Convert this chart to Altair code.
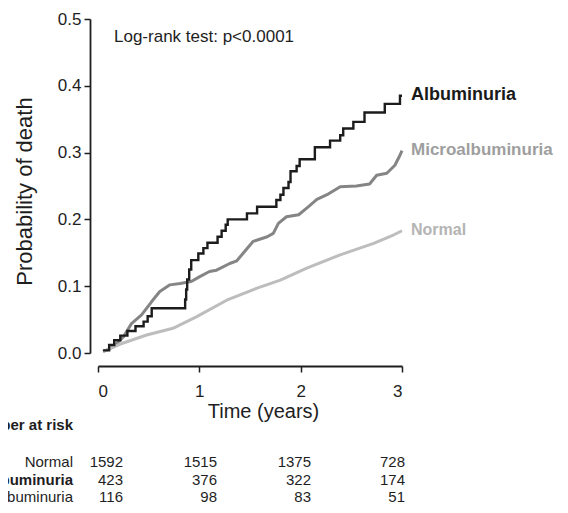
import altair as alt
import pandas as pd

# ---- data ----
alb_t = [0.05, 0.11, 0.16, 0.22, 0.29, 0.37, 0.45, 0.49, 0.53, 0.86, 0.87, 0.88, 0.90, 0.92,
         0.99, 1.04, 1.08, 1.18, 1.22, 1.26, 1.28, 1.47, 1.57, 1.76, 1.80, 1.83, 1.88, 1.90,
         1.96, 1.99, 2.14, 2.29, 2.39, 2.42, 2.52, 2.63, 2.83, 2.98, 3.00]
alb_p = [0.004, 0.012, 0.019, 0.026, 0.033, 0.040, 0.047, 0.055, 0.067, 0.080, 0.095, 0.110, 0.125, 0.139,
         0.149, 0.157, 0.165, 0.174, 0.183, 0.192, 0.200, 0.209, 0.219, 0.229, 0.237, 0.247, 0.256, 0.272,
         0.280, 0.290, 0.308, 0.318, 0.326, 0.336, 0.346, 0.360, 0.373, 0.385, 0.385]

mic_t = [0.05, 0.15, 0.25, 0.33, 0.43, 0.53, 0.61, 0.71, 0.81, 0.92, 1.00, 1.10, 1.17, 1.30, 1.37,
         1.43, 1.53, 1.67, 1.73, 1.78, 1.86, 1.98, 2.06, 2.16, 2.26, 2.39, 2.55, 2.68, 2.75, 2.85,
         2.93, 2.98, 3.00]
mic_p = [0.002, 0.009, 0.024, 0.044, 0.057, 0.077, 0.092, 0.102, 0.104, 0.107, 0.114, 0.122, 0.124, 0.134, 0.138,
         0.149, 0.167, 0.174, 0.179, 0.194, 0.204, 0.207, 0.217, 0.230, 0.237, 0.249, 0.250, 0.253, 0.266, 0.269,
         0.281, 0.296, 0.303]

nor_t = [0.05, 0.25, 0.48, 0.74, 0.97, 1.27, 1.57, 1.80, 2.06, 2.39, 2.72, 2.92, 3.00]
nor_p = [0.002, 0.015, 0.027, 0.037, 0.054, 0.079, 0.097, 0.109, 0.127, 0.147, 0.164, 0.177, 0.183]

groups = ["Albuminuria", "Microalbuminuria", "Normal"]
line_colors = ["#1c1c1c", "#858585", "#bdbdbd"]
label_colors = ["#1a1a1a", "#9e9e9e", "#b4b4b4"]
label_sizes = [18, 16, 18]

risk_times = [0, 1, 2, 3]
risk_rows = ["Normal", "Microalbuminuria", "Albuminuria"]
risk_normal = [1592, 1515, 1375, 728]
risk_micro = [423, 376, 322, 174]
risk_alb = [116, 98, 83, 51]

FONT = "Liberation Sans"
INK = "#1e1e1e"

# ---- tables ----
alb_df = pd.DataFrame({"t": alb_t, "p": alb_p, "g": "Albuminuria"})
grey_df = pd.concat([
    pd.DataFrame({"t": mic_t, "p": mic_p, "g": "Microalbuminuria"}),
    pd.DataFrame({"t": nor_t, "p": nor_p, "g": "Normal"}),
])
end_df = pd.DataFrame({
    "g": groups,
    "t": [alb_t[-1], mic_t[-1], nor_t[-1]],
    "p": [alb_p[-1], mic_p[-1], nor_p[-1]],
})
risk_df = pd.DataFrame({
    "t": risk_times * 3,
    "row": [r for r in risk_rows for _ in risk_times],
    "n": risk_normal + risk_micro + risk_alb,
})
rows_df = pd.DataFrame({"row": risk_rows})

xs = alt.Scale(domain=[0, 3])
ys = alt.Scale(domain=[0, 0.5])
cs = alt.Scale(domain=groups, range=line_colors)

x_enc = alt.X("t:Q", scale=xs, axis=alt.Axis(
    values=[0, 1, 2, 3], format="d", title="Time (years)", grid=False,
    offset=13, tickSize=6, tickWidth=1.5, tickColor=INK, domainWidth=1.8, domainColor=INK,
    labelFontSize=17, labelColor=INK, labelFont=FONT, labelPadding=19, labelBaseline="middle",
    titleFontSize=20, titleFont=FONT, titleColor=INK, titleFontWeight="normal",
    titleX=165, titleY=51, titleBaseline="alphabetic", titleAlign="center"))
y_enc = alt.Y("p:Q", scale=ys, axis=alt.Axis(
    values=[0, 0.1, 0.2, 0.3, 0.4, 0.5], format=".1f", title="Probability of death", grid=False,
    offset=8, tickSize=6, tickWidth=1.5, tickColor=INK, domainWidth=1.8, domainColor=INK,
    labelFontSize=17, labelColor=INK, labelFont=FONT, labelPadding=3,
    titleFontSize=22, titleFont=FONT, titleColor=INK, titleFontWeight="normal",
    titleX=-66, titleY=172, titleAngle=270, titleAlign="center", titleBaseline="middle"))

alb_line = alt.Chart(alb_df).mark_line(interpolate="step-after", strokeWidth=2.4).encode(
    x=x_enc, y=y_enc, color=alt.Color("g:N", scale=cs, legend=None))
grey_lines = alt.Chart(grey_df).mark_line(strokeWidth=3, strokeJoin="round").encode(
    x=alt.X("t:Q", scale=xs), y=alt.Y("p:Q", scale=ys),
    color=alt.Color("g:N", scale=cs, legend=None), detail="g:N")

end_labels = alt.Chart(end_df).mark_text(
    align="left", baseline="middle", dx=9, dy=-1, fontWeight="bold", font=FONT
).encode(
    x=alt.X("t:Q", scale=xs), y=alt.Y("p:Q", scale=ys), text="g:N",
    size=alt.Size("g:N", scale=alt.Scale(domain=groups, range=label_sizes), legend=None),
    color=alt.Color("g:N", scale=alt.Scale(domain=groups, range=label_colors), legend=None))

logrank = alt.Chart(pd.DataFrame({"txt": ["Log-rank test: p<0.0001"]})).mark_text(
    align="left", baseline="alphabetic", fontSize=17, font=FONT, color=INK
).encode(x=alt.value(16), y=alt.value(23), text="txt:N")

main = alt.layer(grey_lines, alb_line, end_labels, logrank).resolve_scale(color="independent")

# ---- number at risk table ----
tx = alt.X("t:Q", scale=alt.Scale(domain=[0, 3], range=[25, 307]), axis=None)
ty = alt.Y("row:N", scale=alt.Scale(type="point", domain=risk_rows, range=[443, 478], padding=0), axis=None)

nums = alt.Chart(risk_df).mark_text(
    align="right", baseline="middle", fontSize=15, font=FONT, color=INK
).encode(x=tx, y=ty, text="n:Q")

row_lab = alt.Chart(rows_df).mark_text(
    align="right", baseline="middle", fontSize=15, font=FONT, color=INK
).encode(x=alt.value(-25), y=ty, text="row:N").transform_filter(alt.datum.row != "Microalbuminuria")

row_lab_b = alt.Chart(rows_df).mark_text(
    align="right", baseline="middle", fontSize=15, font=FONT, color=INK, fontWeight="bold"
).encode(x=alt.value(-25), y=ty, text="row:N").transform_filter(alt.datum.row == "Microalbuminuria")

heading = alt.Chart(pd.DataFrame({"txt": ["Number at risk"]})).mark_text(
    align="right", baseline="middle", fontSize=15, font=FONT, color=INK, fontWeight="bold"
).encode(x=alt.value(-25), y=alt.value(406), text="txt:N")

table = alt.layer(nums, row_lab, row_lab_b, heading)

chart = alt.layer(main, table).resolve_scale(x="independent", y="independent").properties(
    width=304, height=334,
    autosize=alt.AutoSizeParams(type="none"),
    padding={"left": 90, "top": 11, "right": 158, "bottom": 152},
    background="white",
).configure_view(strokeWidth=0, stroke="transparent")

chart.save("out.html", embed_options={"renderer": "svg", "actions": False})
